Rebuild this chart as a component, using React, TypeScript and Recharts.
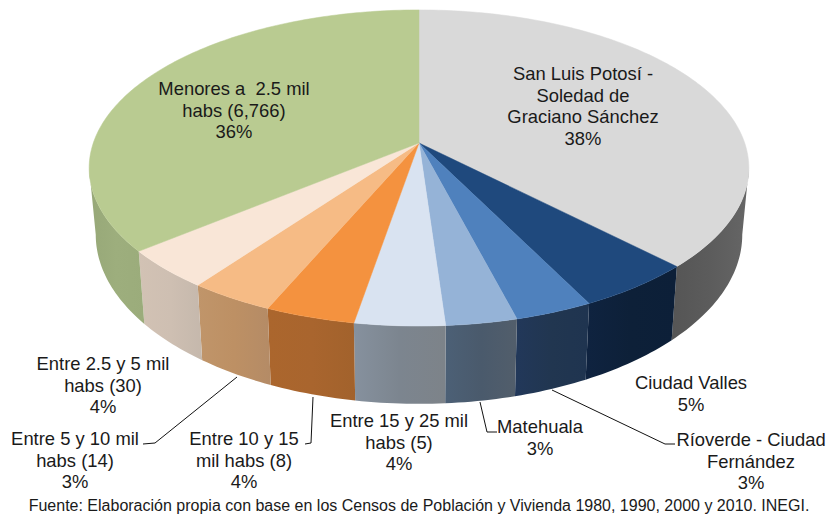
import { Pie, PieChart } from "recharts";

const names = [
  "San Luis Potosí - Soledad de Graciano Sánchez",
  "Ciudad Valles",
  "Ríoverde - Ciudad Fernández",
  "Matehuala",
  "Entre 15 y 25 mil habs (5)",
  "Entre 10 y 15 mil habs (8)",
  "Entre 5 y 10 mil habs (14)",
  "Entre 2.5 y 5 mil habs (30)",
  "Menores a 2.5 mil habs (6,766)",
];
const shares = [37.6, 5.0, 3.3, 3.0, 3.8, 3.8, 3.6, 4.0, 35.9];
const labelLines = [
  ["San Luis Potosí -", "Soledad de", "Graciano Sánchez", "38%"],
  ["Ciudad Valles", "5%"],
  ["Ríoverde - Ciudad", "Fernández", "3%"],
  ["Matehuala", "3%"],
  ["Entre 15 y 25 mil", "habs (5)", "4%"],
  ["Entre 10 y 15", "mil habs (8)", "4%"],
  ["Entre 5 y 10 mil", "habs (14)", "3%"],
  ["Entre 2.5 y 5 mil", "habs (30)", "4%"],
  ["Menores a  2.5 mil", "habs (6,766)", "36%"],
];
const topColors = ["#d9d9d9", "#1f497d", "#4f81bd", "#95b3d7", "#d9e3f1", "#f4923f", "#f6bb85", "#f9e6d7", "#b9cb91"];
// left, middle, right of each side wall
const wallColors = [
  ["#555555", "#5c5c5c", "#666666"],
  ["#0f2340", "#0d2038", "#0c1f38"],
  ["#22385a", "#213650", "#1f3450"],
  ["#4c6076", "#4a5a6c", "#525e6b"],
  ["#86919e", "#7c858f", "#7d8389"],
  ["#ab662d", "#a9652e", "#a2622c"],
  ["#c0956a", "#bd9064", "#b48b66"],
  ["#d2c2b4", "#cebfb2", "#c5b8ac"],
  ["#97a878", "#9dae7d", "#9bac7b"],
];

const topRows = names.map((name, i) => ({ name, value: shares[i], fill: topColors[i] }));
const wallRows = names.map((name, i) => ({ name, value: shares[i], fill: `url(#wall-${i})` }));

// centre x and first line y for each label
const labelSpots = [
  [583, 80], [691, 389], [751, 446], [540, 433], [399, 427], [244, 445], [75, 445], [103, 370], [234, 95],
];
const leaders: Record<number, string> = {
  2: "552,390 665,444 675,444",
  3: "480,402 487,432 497,432",
  5: "313,397 311,443 305,444",
  6: "237,377 155,443 143,444",
};

const FONT = "'Liberation Sans', Arial, sans-serif";
const PERSPECTIVE = 0.158;
const RX = 0.987;
const RY = 0.467;

// tilted disc: where an angle on the rim lands, relative to the apex
function rim(deg: number, r: number) {
  const t = ((90 - deg) * Math.PI) / 180;
  const w = 1 + PERSPECTIVE * Math.cos(t);
  return [(RX * r * Math.sin(t)) / w, (-RY * r * Math.cos(t)) / w];
}

function arc(from: number, to: number, r: number) {
  const n = Math.max(2, Math.ceil(Math.abs(from - to)));
  return Array.from({ length: n + 1 }, (_, k) => rim(from + ((to - from) * k) / n, r));
}

function TopFace(p: any) {
  const pts = arc(p.startAngle, p.endAngle, p.outerRadius);
  const d = pts.map(([x, y]) => `L${p.cx + x},${p.cy + y}`).join("");
  return <path d={`M${p.cx},${p.cy}${d}Z`} fill={p.fill} stroke={p.fill} strokeWidth={0.5} />;
}

function WallFace(p: any) {
  // only the part of the wall that faces the viewer
  const edge = (Math.acos(-PERSPECTIVE) * 180) / Math.PI;
  const hi = 90 - edge;
  const lo = 90 - (360 - edge);
  const a = Math.min(p.startAngle, hi);
  const b = Math.max(p.endAngle, lo);
  if (a <= b) return <g />;
  const pts = arc(a, b, p.outerRadius);
  const top = pts.map(([x, y]) => `${p.cx + x},${p.cy + y}`);
  const bottom = pts.map(([x, y]) => `${p.cx + x * 0.98},${p.cy + y * 1.07 + 65}`).reverse();
  return <path d={`M${[...top, ...bottom].join("L")}Z`} fill={p.fill} />;
}

function SliceLabel(p: any) {
  const i = p.index;
  const [x, y] = labelSpots[i];
  return (
    <g>
      {leaders[i] && <polyline points={leaders[i]} fill="none" stroke="#111" strokeWidth={1} />}
      <text textAnchor="middle" fontFamily={FONT} fontSize={18.4} fill="#1a1a1a">
        {labelLines[i].map((line, k) => (
          <tspan key={k} x={x} y={y + k * 21.5} xmlSpace="preserve">
            {line}
          </tspan>
        ))}
      </text>
    </g>
  );
}

export default function App() {
  return (
    <div style={{ position: "absolute", left: 0, top: 0 }}>
      <PieChart width={828} height={518} margin={{ top: 0, right: 0, bottom: 0, left: 0 }}>
        <defs>
          {wallColors.map((c, i) => (
            <linearGradient key={i} id={`wall-${i}`} x1="0" y1="0" x2="1" y2="0">
              <stop offset="0%" stopColor={c[0]} />
              <stop offset="50%" stopColor={c[1]} />
              <stop offset="100%" stopColor={c[2]} />
            </linearGradient>
          ))}
        </defs>
        <Pie
          data={wallRows}
          dataKey="value"
          nameKey="name"
          cx={419}
          cy={143}
          outerRadius={330}
          startAngle={90}
          endAngle={-270}
          shape={WallFace}
          label={false}
          labelLine={false}
          isAnimationActive={false}
        />
        <Pie
          data={topRows}
          dataKey="value"
          nameKey="name"
          cx={419}
          cy={143}
          outerRadius={330}
          startAngle={90}
          endAngle={-270}
          shape={TopFace}
          label={SliceLabel}
          labelLine={false}
          isAnimationActive={false}
        />
        <text x={419} y={511} textAnchor="middle" fontFamily={FONT} fontSize={16} fill="#1a1a1a">
          Fuente: Elaboración propia con base en los Censos de Población y Vivienda 1980, 1990, 2000 y 2010. INEGI.
        </text>
      </PieChart>
    </div>
  );
}
